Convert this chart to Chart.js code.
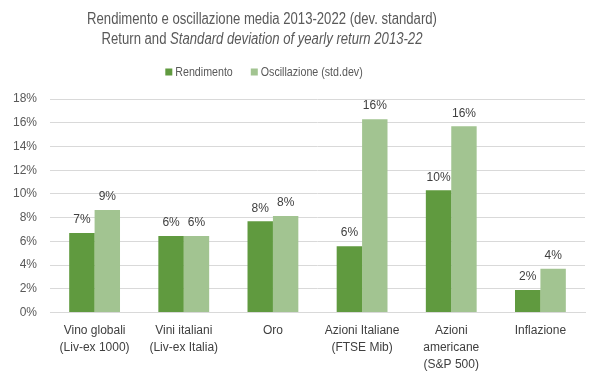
<!DOCTYPE html>
<html><head><meta charset="utf-8">
<script src="https://cdn.jsdelivr.net/npm/chart.js@4"></script>
<style>html,body{margin:0;padding:0;background:#fff}#wrap{width:599px;height:378px;position:relative}</style>
</head><body><div id="wrap"><canvas id="c"></canvas></div>
<script>
const categories = [["Vino globali","(Liv-ex 1000)"],["Vini italiani","(Liv-ex Italia)"],["Oro"],["Azioni Italiane","(FTSE Mib)"],["Azioni","americane","(S&P 500)"],["Inflazione"]];
const seriesNames = ["Rendimento","Oscillazione (std.dev)"];
const rendimento = [6.7, 6.45, 7.7, 5.6, 10.3, 1.9];
const oscillazione = [8.65, 6.45, 8.15, 16.3, 15.7, 3.7];
const titleLine1 = "Rendimento e oscillazione media 2013-2022 (dev. standard)";
const titleLine2a = "Return and ";
const titleLine2b = "Standard deviation of yearly return 2013-22";
const colors = ["#609a3f","#a2c491"];
const sans = '"Liberation Sans",Arial,sans-serif';
const SX = 0.82;

const overlay = {
  id:'overlay',
  afterDraw(chart){
    const ctx = chart.ctx;
    ctx.save();
    const cx = 262;
    ctx.fillStyle = '#595959';
    ctx.textBaseline = 'middle';
    ctx.textAlign = 'left';
    function txt(t, x, y, font){
      ctx.font = font;
      ctx.save(); ctx.translate(x, y); ctx.scale(SX, 1); ctx.fillText(t, 0, 0); ctx.restore();
      return ctx.measureText(t).width * SX;
    }
    function w(t, font){ ctx.font = font; return ctx.measureText(t).width * SX; }
    const f = '16px ' + sans, fi = 'italic 16px ' + sans;
    txt(titleLine1, cx - w(titleLine1, f)/2, 20, f);
    const wa = w(titleLine2a, f), wb = w(titleLine2b, fi);
    const x0 = cx - (wa+wb)/2;
    txt(titleLine2a, x0, 40, f);
    txt(titleLine2b, x0 + wa, 40, fi);
    // legend
    const lf = '13px ' + sans;
    const w1 = w(seriesNames[0], lf), w2 = w(seriesNames[1], lf);
    const box = 7, gap = 3, sep = 18;
    const total = box+gap+w1+sep+box+gap+w2;
    let lx = 264 - total/2;
    const ly = 72;
    [0,1].forEach(i=>{
      ctx.fillStyle = colors[i];
      ctx.fillRect(lx, ly-box/2, box, box);
      lx += box+gap;
      ctx.fillStyle = '#595959';
      txt(seriesNames[i], lx, ly, lf);
      lx += (i===0?w1:w2) + sep;
    });
    // data labels
    ctx.font = '12px ' + sans;
    ctx.fillStyle = '#404040';
    ctx.textAlign = 'center';
    chart.data.datasets.forEach((ds, di)=>{
      const meta = chart.getDatasetMeta(di);
      meta.data.forEach((bar, i)=>{
        ctx.fillText(Math.round(ds.data[i]) + '%', bar.x, bar.y - 13);
      });
    });
    ctx.restore();
  }
};

new Chart(document.getElementById('c'), {
  type:'bar',
  data:{
    labels: categories,
    datasets:[
      {label: seriesNames[0], data: rendimento, backgroundColor: colors[0], categoryPercentage:0.57, barPercentage:1},
      {label: seriesNames[1], data: oscillazione, backgroundColor: colors[1], categoryPercentage:0.57, barPercentage:1}
    ]
  },
  plugins:[overlay],
  options:{
    responsive:true, maintainAspectRatio:false, animation:false,
    layout:{padding:{top:99,left:0,right:14,bottom:3}},
    plugins:{legend:{display:false}, title:{display:false}, tooltip:{enabled:false}},
    scales:{
      x:{
        grid:{display:false},
        border:{color:'#d9d9d9'},
        ticks:{color:'#404040', font:{family:sans, size:12, lineHeight:1.4}, maxRotation:0, autoSkip:false, padding:2}
      },
      y:{
        min:0, max:18,
        grid:{color:'#d9d9d9', drawTicks:false},
        border:{display:false},
        ticks:{stepSize:2, color:'#595959', font:{family:sans, size:12}, padding:13, callback:v=>v+'%'}
      }
    }
  }
});
</script></body></html>
